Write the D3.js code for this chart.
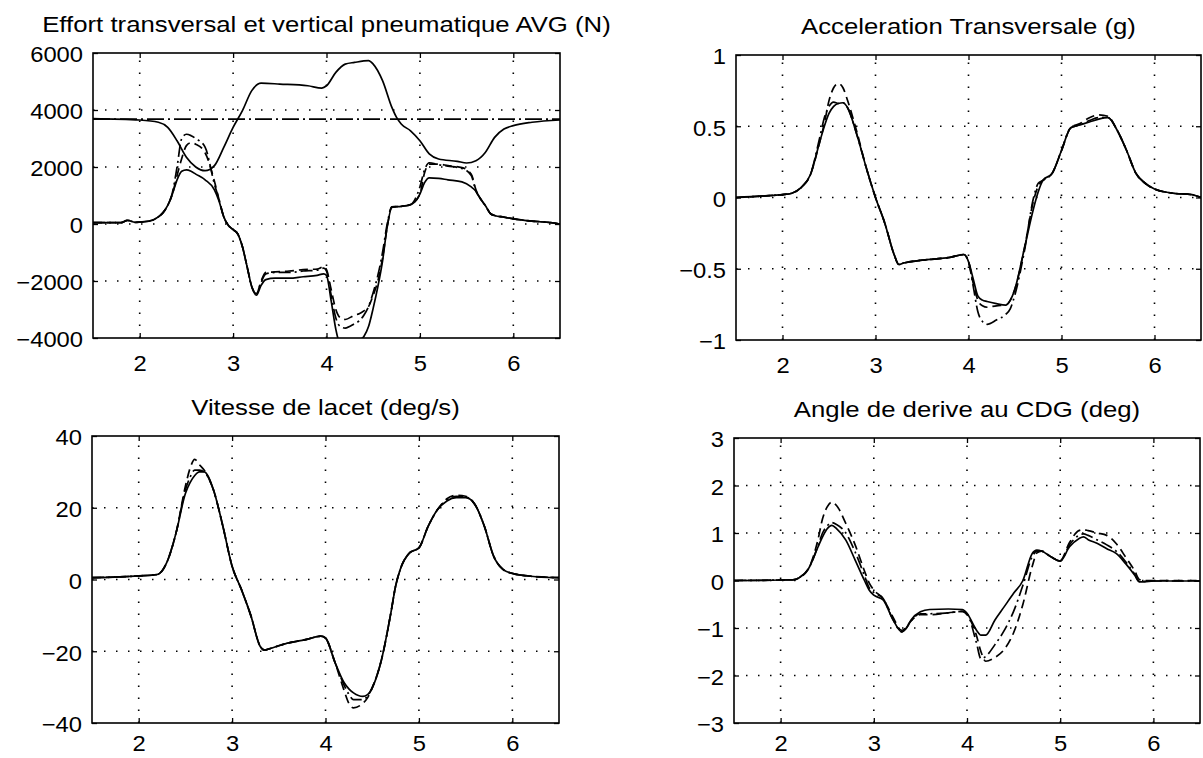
<!DOCTYPE html>
<html><head><meta charset="utf-8">
<script src="https://cdn.jsdelivr.net/npm/d3@7"></script>
<style>
body{margin:0;background:#fff}
svg{display:block;background:#fff}
text{font-family:"Liberation Sans",Arial,Helvetica,sans-serif;fill:#000}
</style>
</head><body><svg id="c" width="1203" height="758"></svg>
<script>
// ---------- shared ticks ----------
const xTicks = [2, 3, 4, 5, 6];
const yTicksForce = [-4000, -2000, 0, 2000, 4000, 6000];
const yTicksAcc = [-1, -0.5, 0, 0.5, 1];
const yTicksYaw = [-40, -20, 0, 20, 40];
const yTicksBeta = [-3, -2, -1, 0, 1, 2, 3];

// ---------- panel 1 : vertical force ----------
const tFz = [1.5,2.0,2.2,2.3,2.4,2.5,2.6,2.7,2.8,2.9,3.0,3.1,3.2,3.3,3.5,3.8,3.95,4.0,4.1,4.2,4.3,4.45,4.5,4.6,4.7,4.75,4.8,4.9,5.0,5.1,5.2,5.4,5.5,5.6,5.7,5.8,5.9,6.0,6.2,6.5];
const fzSolid = [3700,3650,3570,3390,2920,2340,2000,1870,2050,2690,3390,3980,4680,4940,4910,4850,4770,4850,5320,5610,5670,5730,5610,5030,4090,3740,3510,3270,2920,2460,2280,2200,2140,2220,2510,3040,3330,3450,3570,3650];
const tFzModel = [1.5, 6.5];
const fzModel = [3680, 3680];

// ---------- panel 1 : transversal force ----------
const tFy = [1.5,1.8,1.87,1.95,2.1,2.2,2.25,2.3,2.35,2.4,2.45,2.5,2.55,2.6,2.7,2.8,2.85,2.9,2.95,3.0,3.05,3.1,3.15,3.2,3.25,3.3,3.35,3.45,3.6,3.75,3.9,3.97,4.0,4.05,4.1,4.15,4.2,4.3,4.35,4.4,4.45,4.5,4.55,4.6,4.65,4.7,4.8,4.9,5.0,5.05,5.1,5.2,5.3,5.45,5.55,5.6,5.65,5.7,5.76,5.8,5.9,6.0,6.2,6.4,6.5];
const fySolid = [50,50,130,60,100,250,400,650,1050,1550,1850,1900,1850,1750,1550,1200,800,250,-50,-200,-350,-800,-1500,-2200,-2500,-2150,-1950,-1900,-1900,-1850,-1800,-1750,-1800,-2700,-3700,-4300,-4500,-4400,-4100,-3950,-3600,-2950,-2200,-1300,-100,580,620,680,1050,1450,1620,1600,1550,1480,1300,1150,880,650,350,300,240,180,100,50,0];
const fyDashed = [50,50,130,60,100,250,400,650,1050,1700,2300,2750,2850,2800,2500,1500,850,250,-50,-200,-350,-800,-1500,-2200,-2450,-2000,-1700,-1680,-1650,-1600,-1580,-1500,-1600,-2300,-3000,-3300,-3350,-3200,-3150,-3050,-2900,-2500,-2000,-1200,-100,600,620,680,1050,1800,2100,2100,2050,1980,1750,1200,880,650,350,300,240,180,100,50,0];
const fyDashDot = [50,50,130,60,100,250,400,650,1100,2000,3000,3150,3100,3000,2700,1400,850,250,-50,-200,-350,-800,-1500,-2200,-2450,-2050,-1750,-1700,-1700,-1650,-1620,-1550,-1650,-2500,-3300,-3600,-3650,-3500,-3400,-3200,-2900,-2400,-1800,-1000,0,600,620,680,1300,1900,2150,2080,2030,1950,1700,1150,880,650,350,300,240,180,100,50,0];

// ---------- panel 2 : lateral acceleration ----------
const tAcc = [1.5,1.9,2.0,2.1,2.2,2.3,2.4,2.45,2.5,2.55,2.6,2.65,2.7,2.8,2.9,3.0,3.1,3.2,3.25,3.3,3.5,3.8,3.95,4.0,4.05,4.1,4.15,4.2,4.3,4.4,4.45,4.5,4.6,4.7,4.75,4.8,4.9,5.0,5.1,5.2,5.3,5.4,5.5,5.6,5.7,5.8,5.9,6.0,6.2,6.4,6.5];
const accSolid = [0,0.015,0.02,0.03,0.07,0.16,0.39,0.5,0.59,0.64,0.66,0.665,0.63,0.44,0.21,0,-0.18,-0.40,-0.47,-0.46,-0.44,-0.42,-0.40,-0.45,-0.57,-0.69,-0.72,-0.73,-0.745,-0.755,-0.72,-0.64,-0.36,-0.075,0.04,0.12,0.17,0.33,0.49,0.51,0.53,0.55,0.56,0.47,0.33,0.17,0.1,0.06,0.03,0.02,0];
const accDashed = [0,0.015,0.02,0.03,0.07,0.16,0.39,0.52,0.68,0.77,0.8,0.77,0.68,0.46,0.21,0,-0.18,-0.40,-0.47,-0.46,-0.44,-0.42,-0.40,-0.45,-0.6,-0.72,-0.76,-0.77,-0.76,-0.755,-0.72,-0.64,-0.36,-0.02,0.08,0.12,0.17,0.33,0.49,0.52,0.56,0.58,0.57,0.47,0.33,0.17,0.1,0.06,0.03,0.02,0];
const accDashDot = [0,0.015,0.02,0.03,0.07,0.16,0.42,0.56,0.64,0.67,0.66,0.665,0.63,0.44,0.21,0,-0.18,-0.40,-0.47,-0.46,-0.44,-0.42,-0.40,-0.45,-0.62,-0.8,-0.87,-0.89,-0.86,-0.82,-0.78,-0.68,-0.38,0.0,0.1,0.12,0.17,0.33,0.49,0.51,0.54,0.56,0.56,0.47,0.33,0.17,0.1,0.06,0.03,0.02,0];

// ---------- panel 3 : yaw rate ----------
const tYaw = [1.5,2.0,2.2,2.3,2.4,2.5,2.55,2.6,2.65,2.7,2.8,2.9,3.0,3.1,3.2,3.3,3.35,3.4,3.6,3.8,3.95,4.0,4.1,4.2,4.25,4.3,4.4,4.45,4.5,4.6,4.7,4.75,4.8,4.9,5.0,5.1,5.2,5.3,5.4,5.5,5.6,5.7,5.8,5.9,6.0,6.2,6.5];
const yawSolid = [0.5,1,1.4,4.7,13,24,27,29,30,30,25,15,3.7,-2.8,-10,-18.6,-19.7,-19.3,-17.7,-16.7,-15.8,-16.3,-23,-28.8,-30.5,-31.6,-32.6,-32.1,-30.2,-22.3,-9.3,-1.9,2.8,7.4,8.8,14.9,19.5,21.9,22.8,22.8,20.9,14.9,6.5,2.8,1.7,0.9,0.5];
const yawDashed = [0.5,1,1.4,4.7,13,26,31,33.5,32,30.5,25,15,3.7,-2.8,-10,-18.6,-19.7,-19.3,-17.7,-16.7,-15.8,-16.3,-23,-31,-34.5,-35.8,-34.5,-33,-30.2,-22.3,-9.3,-1.9,2.8,7.4,8.8,14.9,19.5,22.5,23.5,23.2,20.9,14.9,6.5,2.8,1.7,0.9,0.5];
const yawDashDot = [0.5,1,1.4,4.7,13,25,28.5,30.5,30.5,30,25,15,3.7,-2.8,-10,-18.6,-19.7,-19.3,-17.7,-16.7,-15.8,-16.3,-23,-29.5,-32,-33.5,-33.5,-32.5,-30.2,-22.3,-9.3,-1.9,2.8,7.4,8.8,14.9,19.5,22.2,23.2,23,20.9,14.9,6.5,2.8,1.7,0.9,0.5];

// ---------- panel 4 : sideslip angle ----------
const tBeta = [1.5,2.0,2.15,2.2,2.3,2.4,2.45,2.5,2.55,2.6,2.7,2.8,2.9,2.95,3.0,3.1,3.2,3.3,3.35,3.4,3.5,3.6,3.8,3.95,4.0,4.1,4.15,4.2,4.3,4.4,4.5,4.6,4.7,4.75,4.8,4.9,5.0,5.1,5.2,5.25,5.3,5.4,5.5,5.6,5.7,5.8,5.85,5.9,6.0,6.5];
const betaSolid = [0,0.01,0.02,0.06,0.25,0.7,0.92,1.09,1.16,1.09,0.85,0.43,0,-0.2,-0.31,-0.41,-0.8,-1.08,-1.0,-0.83,-0.66,-0.61,-0.6,-0.61,-0.69,-1.04,-1.15,-1.15,-0.83,-0.55,-0.27,0,0.57,0.64,0.62,0.5,0.41,0.71,0.88,0.92,0.86,0.78,0.67,0.57,0.36,0.11,-0.03,-0.03,-0.01,-0.01];
const betaDashed = [0,0.01,0.02,0.06,0.25,0.85,1.3,1.55,1.65,1.58,1.2,0.75,0.2,-0.05,-0.2,-0.38,-0.75,-1.05,-0.98,-0.85,-0.72,-0.72,-0.68,-0.65,-0.72,-1.15,-1.5,-1.7,-1.62,-1.45,-1.1,-0.5,0.3,0.58,0.62,0.5,0.42,0.8,1.05,1.07,1.05,1.0,0.95,0.78,0.5,0.2,0.02,0,0,0];
const betaDashDot = [0,0.01,0.02,0.06,0.25,0.72,1.0,1.15,1.22,1.18,1.0,0.6,0.1,-0.15,-0.25,-0.38,-0.8,-1.08,-1.0,-0.85,-0.7,-0.7,-0.68,-0.65,-0.7,-1.3,-1.65,-1.6,-1.35,-1.05,-0.65,-0.1,0.5,0.62,0.62,0.5,0.41,0.75,0.95,0.98,0.95,0.85,0.75,0.62,0.4,0.13,-0.02,-0.02,-0.01,-0.01];

// ---------- panel definitions (built from the arrays above) ----------
const panels = [
  { title: "Effort transversal et vertical pneumatique AVG (N)", box: [93, 53, 560, 338],
    yDomain: [-4000, 6000], yTicks: yTicksForce, pad: 17,
    series: [
      { t: tFz, v: fzSolid, style: "solid" },
      { t: tFzModel, v: fzModel, style: "longdashdot" },
      { t: tFy, v: fyDashed, style: "dashed" },
      { t: tFy, v: fyDashDot, style: "dashdot" },
      { t: tFy, v: fySolid, style: "solid" }
    ] },
  { title: "Acceleration Transversale (g)", box: [736, 55, 1201, 340],
    yDomain: [-1, 1], yTicks: yTicksAcc, pad: 17,
    series: [
      { t: tAcc, v: accDashed, style: "dashed" },
      { t: tAcc, v: accDashDot, style: "dashdot" },
      { t: tAcc, v: accSolid, style: "solid" }
    ] },
  { title: "Vitesse de lacet (deg/s)", box: [92, 436, 559, 723],
    yDomain: [-40, 40], yTicks: yTicksYaw, pad: 12,
    series: [
      { t: tYaw, v: yawDashed, style: "dashed" },
      { t: tYaw, v: yawDashDot, style: "dashdot" },
      { t: tYaw, v: yawSolid, style: "solid" }
    ] },
  { title: "Angle de derive au CDG (deg)", box: [734, 438, 1200, 723],
    yDomain: [-3, 3], yTicks: yTicksBeta, pad: 12,
    series: [
      { t: tBeta, v: betaDashed, style: "dashed" },
      { t: tBeta, v: betaDashDot, style: "dashdot" },
      { t: tBeta, v: betaSolid, style: "solid" }
    ] }
];

const dashes = { solid: null, dashed: "9,5", dashdot: "12,4,2,4", longdashdot: "17,4,2,4" };
const TICK_FONT = 22, TITLE_FONT = 23, SX = 1.08, TSX = 1.12;
const fmt = v => (v < 0 ? "\u2212" : "") + Math.abs(v);

const svg = d3.select("#c");

function stretch(sel) {
  sel.each(function () {
    const t = d3.select(this);
    const x = +t.attr("x") || 0;
    t.attr("transform", `translate(${x},0) scale(${SX},1) translate(${-x},0)`);
  });
}

panels.forEach((p, i) => {
  const [x0, y0, x1, y1] = p.box;
  const x = d3.scaleLinear().domain([1.5, 6.5]).range([x0, x1]);
  const y = d3.scaleLinear().domain(p.yDomain).range([y1, y0]);
  const g = svg.append("g");

  const cid = "clip" + i;
  svg.append("clipPath").attr("id", cid).append("rect")
    .attr("x", x0).attr("y", y0).attr("width", x1 - x0).attr("height", y1 - y0);

  // dotted grid
  const grid = g.append("g").attr("stroke", "#000").attr("stroke-width", 1.6)
    .attr("stroke-dasharray", "1.5,10.5").attr("fill", "none");
  xTicks.forEach(v => grid.append("line")
    .attr("x1", x(v)).attr("x2", x(v)).attr("y1", y1).attr("y2", y0));
  p.yTicks.slice(1, -1).forEach(v => grid.append("line")
    .attr("x1", x0).attr("x2", x1).attr("y1", y(v)).attr("y2", y(v)));

  // axes (ticks inside, MATLAB style)
  const ax = g.append("g").attr("transform", `translate(0,${y1})`)
    .call(d3.axisBottom(x).tickValues(xTicks).tickSize(-5).tickPadding(p.pad).tickFormat(fmt));
  const ay = g.append("g").attr("transform", `translate(${x0},0)`)
    .call(d3.axisLeft(y).tickValues(p.yTicks).tickSize(-5).tickPadding(10).tickFormat(fmt));
  g.append("g").attr("transform", `translate(0,${y0})`)
    .call(d3.axisTop(x).tickValues(xTicks).tickSize(-5).tickFormat(""));
  g.append("g").attr("transform", `translate(${x1},0)`)
    .call(d3.axisRight(y).tickValues(p.yTicks).tickSize(-5).tickFormat(""));
  g.selectAll(".domain").remove();
  g.selectAll(".tick line").attr("stroke", "#000").attr("stroke-width", 1.3);
  [ax, ay].forEach(a => a.selectAll("text")
    .attr("font-size", TICK_FONT).attr("font-family", null).attr("fill", "#000"));
  ay.selectAll("text").attr("dy", "0.4em");
  stretch(ax.selectAll("text"));
  stretch(ay.selectAll("text"));

  // series
  const line = d3.line().x(d => x(d[0])).y(d => y(d[1])).curve(d3.curveMonotoneX);
  const lg = g.append("g").attr("clip-path", `url(#${cid})`);
  p.series.forEach(s => {
    const pts = s.t.map((t, k) => [t, s.v[k]]);
    lg.append("path").attr("d", line(pts)).attr("fill", "none")
      .attr("stroke", "#000").attr("stroke-width", 1.7)
      .attr("stroke-linejoin", "round")
      .attr("stroke-dasharray", dashes[s.style]);
  });

  // frame
  g.append("rect").attr("x", x0).attr("y", y0).attr("width", x1 - x0).attr("height", y1 - y0)
    .attr("fill", "none").attr("stroke", "#000").attr("stroke-width", 1.6);

  // title
  const cx = (x0 + x1) / 2;
  g.append("text").attr("x", cx).attr("y", y0 - 21).attr("text-anchor", "middle")
    .attr("font-size", TITLE_FONT).text(p.title)
    .attr("transform", `translate(${cx},0) scale(${TSX},1) translate(${-cx},0)`);
});
</script>
</body></html>
